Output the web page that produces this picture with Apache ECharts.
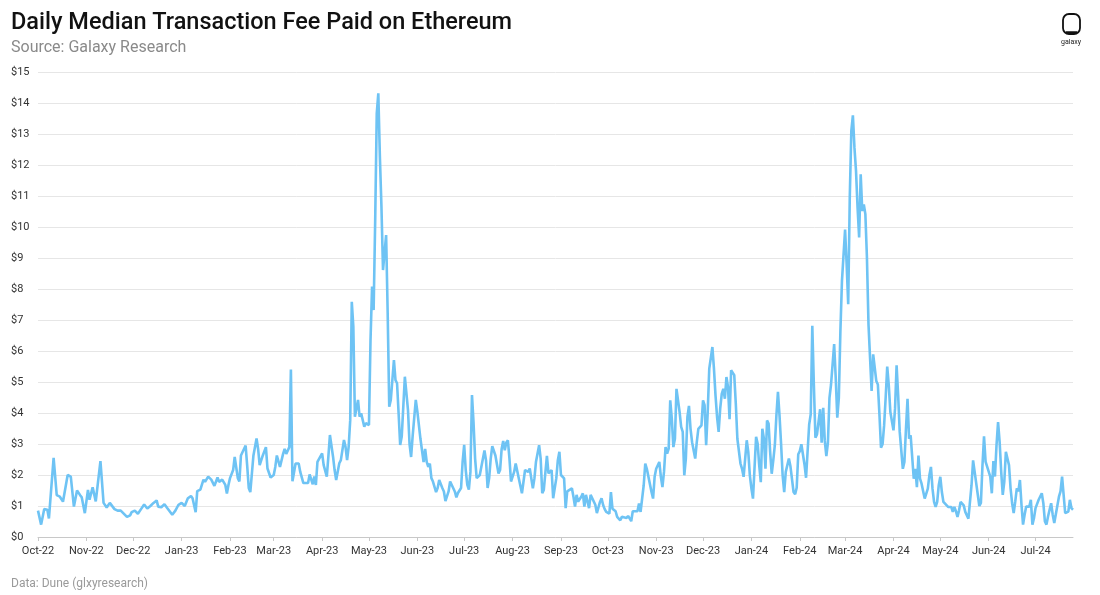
<!DOCTYPE html>
<html>
<head>
<meta charset="utf-8">
<script src="https://cdn.jsdelivr.net/npm/echarts@6/dist/echarts.min.js"></script>
<style>
html,body{margin:0;padding:0;background:#fff;}
#chart{width:1100px;height:595px;}
</style>
</head>
<body>
<div id="chart"></div>
<script>
// ---- data ----
const startDate = '2022-10-01';
const endDate = '2024-07-25';
// days since startDate at which the line's vertices were read
const dayOffset = [0,2,4,6,7,8,10,12,14,16,19,21,23,25,27,28,30,32,33,35,37,40,42,44,46,49,51,53,57,59,
60,62,64,66,68,70,72,74,76,77,79,81,83,86,88,90,92,94,96,98,99,101,102,104,106,107,109,111,113,115,116,118,
120,121,122,123,125,126,128,129,130,133,134,135,136,138,140,141,142,143,144,146,147,149,151,152,153,155,157,158,159,
161,162,163,165,167,168,170,171,173,174,176,177,178,179,180,182,183,185,186,187,189,190,191,193,194,196,197,198,199,
200,201,202,203,204,205,206,207,209,210,212,213,214,215,216,217,218,219,220,221,223,224,225,226,228,229,230,231,232,233,235,237,
238,239,240,242,243,244,245,247,248,249,250,251,252,253,255,256,257,259,260,261,263,264,265,267,268,269,271,272,273,274,275,276,277,278,279,
280,281,283,284,286,287,288,289,290,291,293,294,295,296,297,298,299,300,301,302,303,305,306,308,310,311,312,314,315,317,318,319,
321,322,323,324,326,327,328,329,330,332,333,334,335,337,338,339,340,342,343,344,345,346,348,349,350,351,353,354,355,357,358,359,
360,361,362,363,364,366,367,368,370,371,373,374,375,377,378,380,381,382,384,385,386,387,388,389,390,391,393,394,395,396,398,399,
400,401,402,403,404,405,406,407,408,409,411,412,413,414,415,416,417,418,419,421,422,423,424,425,426,427,428,429,430,432,433,434,435,436,437,438,439,
440,441,442,443,444,445,446,447,448,450,451,452,453,454,455,456,457,458,460,461,462,463,464,465,466,467,468,469,470,471,472,473,474,475,476,477,478,479,
480,481,482,484,485,486,487,488,489,491,492,493,494,495,496,497,498,499,501,502,503,504,505,506,507,508,509,510,511,512,513,514,515,517,518,519,
520,521,522,523,524,525,526,527,528,529,530,531,532,533,534,535,536,537,538,539,540,541,542,543,544,545,546,548,549,550,551,552,554,555,556,557,558,559,
560,561,562,563,564,565,566,568,569,570,571,572,573,574,575,576,577,578,579,580,581,583,584,585,586,587,588,589,590,591,593,594,595,596,597,598,599,
600,601,603,604,605,606,607,608,610,611,612,613,614,615,616,617,618,619,620,622,623,624,625,626,627,628,629,630,631,632,633,634,635,636,637,638,639,
640,641,643,644,645,646,647,648,649,650,651,652,654,655,656,657,658,660,661,662,663];
// daily median fee, USD
const fee = [0.85,0.4,0.9,0.88,0.6,0.65,2.55,1.35,1.3,1.14,2.0,1.95,0.98,1.5,1.35,1.28,0.77,1.52,1.2,1.6,1.15,2.45,1.1,0.95,1.1,0.9,0.85,0.85,0.65,0.7,
0.8,0.85,0.75,0.9,1.05,0.92,1.0,1.1,1.18,0.98,0.96,1.06,0.92,0.72,0.85,1.04,1.1,1.0,1.25,1.32,1.25,0.8,1.48,1.53,1.85,1.78,1.95,1.85,1.65,1.92,1.78,1.85,
1.68,1.4,1.68,1.9,2.16,2.58,1.9,1.79,2.63,2.95,2.3,1.58,1.45,2.63,3.18,2.84,2.32,2.26,2.63,2.9,2.21,1.92,2.0,2.26,2.63,2.26,2.68,2.84,2.68,
2.9,5.4,1.8,2.37,2.37,2.1,1.74,1.68,1.74,2.02,1.7,1.95,1.68,2.42,2.48,2.7,2.32,1.95,2.59,3.29,2.59,2.16,1.84,2.38,2.48,3.13,2.91,2.48,2.91,
3.77,7.59,6.78,3.88,3.83,4.42,3.88,3.99,3.56,3.67,3.61,6.35,8.08,7.32,10.23,13.67,14.31,12.27,10.66,8.61,9.74,7.22,4.2,4.42,5.71,5.06,4.96,3.99,2.97,3.24,5.17,4.1,
3.0,2.58,3.26,4.42,4.05,4.1,3.16,2.42,2.84,2.42,2.26,2.37,1.9,1.79,1.45,1.58,1.84,1.58,1.47,1.16,1.47,1.79,1.84,1.47,1.28,1.42,1.58,2.42,2.97,2.16,1.68,1.53,2.1,4.58,3.68,
2.53,1.9,2.0,2.05,2.79,2.47,1.58,1.9,2.53,2.93,2.63,2.68,2.05,2.16,2.84,3.1,2.8,3.05,3.12,2.53,1.79,2.1,2.37,1.89,1.41,1.36,2.16,2.1,2.21,1.57,1.89,2.43,
2.96,2.53,1.41,1.52,2.62,2.05,2.0,2.16,1.25,1.89,2.48,2.75,2.0,1.89,0.93,1.47,1.52,1.57,1.3,0.98,1.36,1.14,1.3,1.41,0.98,1.36,0.93,1.36,1.3,1.04,0.77,0.72,
1.13,1.25,1.03,0.9,0.81,0.75,1.45,0.91,0.83,0.65,0.54,0.65,0.67,0.61,0.68,0.51,0.83,0.86,0.83,1.08,0.81,0.86,1.67,2.37,2.2,2.15,1.45,1.24,1.94,2.2,2.42,1.94,
1.61,2.1,2.9,2.69,2.85,4.41,3.82,2.9,3.17,4.78,4.03,3.55,3.39,1.99,2.53,3.87,4.23,3.49,3.06,2.53,3.06,3.49,3.55,3.6,4.41,4.25,2.96,4.03,5.43,6.13,5.43,4.57,3.87,3.39,4.14,4.62,4.78,
4.46,5.16,4.84,3.8,5.38,5.38,5.22,4.3,3.17,2.37,2.2,1.94,2.53,3.12,2.74,1.99,1.56,1.24,3.23,3.01,2.31,1.77,3.49,3.17,2.2,3.76,3.66,2.74,2.04,2.47,2.96,3.92,4.68,3.92,3.01,1.99,1.45,2.1,
2.1,2.53,2.28,1.45,1.38,1.59,2.67,2.77,2.99,2.34,1.91,1.97,3.63,3.96,6.81,4.92,3.2,3.31,4.12,3.04,4.17,3.1,2.61,3.04,4.49,4.92,5.57,6.22,5.14,3.85,4.49,6.65,8.26,9.92,8.8,7.51,
10.95,13.1,13.6,12.56,11.81,10.62,9.66,11.7,10.52,10.73,10.41,9.01,6.86,5.78,4.71,5.89,5.95,5.03,4.92,3.96,2.88,2.99,3.6,4.5,5.5,4.89,4.03,3.44,4.14,5.54,4.57,3.39,2.2,2.42,3.49,4.46,3.17,3.28,
3.3,1.88,2.2,1.61,2.63,1.88,1.72,1.24,1.18,1.56,1.99,2.26,1.56,1.13,0.97,1.13,1.67,1.94,1.45,1.13,1.08,0.97,1.02,0.97,0.81,0.97,0.83,0.65,0.86,1.13,1.02,0.81,0.83,0.59,0.61,1.67,2.47,
2.1,2.15,1.0,1.1,2.3,3.25,2.43,2.27,1.95,1.41,2.45,1.95,2.96,3.71,3.07,2.11,1.36,1.79,2.75,2.32,1.57,1.09,0.77,1.14,1.57,1.47,1.84,1.04,0.4,0.72,0.98,0.93,0.98,1.2,0.4,0.61,0.93,
0.93,1.2,1.41,1.09,0.5,0.4,0.66,0.88,1.09,0.72,0.45,0.4,1.3,1.47,1.95,1.89,0.77,0.82,1.2,0.93,0.88];
const yTicks = [0,1,2,3,4,5,6,7,8,9,10,11,12,13,14,15];
const monthNames = ['Jan','Feb','Mar','Apr','May','Jun','Jul','Aug','Sep','Oct','Nov','Dec'];

// ---- build category axis (one entry per day) ----
const categories = [];
(function(){
  const s = new Date(startDate + 'T00:00:00Z').getTime();
  const e = new Date(endDate + 'T00:00:00Z').getTime();
  for (let t = s; t <= e; t += 86400000) {
    categories.push(new Date(t).toISOString().slice(0,10));
  }
})();
const isMonthStart = (idx, val) => String(val).slice(8,10) === '01';
const seriesData = dayOffset.map((d,i) => [d, fee[i]]);

const FONT = 'Roboto, "Noto Sans", sans-serif';
const chart = echarts.init(document.getElementById('chart'), null, {renderer:'canvas'});
chart.setOption({
  backgroundColor: '#ffffff',
  animation: false,
  textStyle: {fontFamily: FONT},
  title: [
    {text: 'Daily Median Transaction Fee Paid on Ethereum', left: 6, top: 6,
     textStyle: {fontFamily: FONT, fontSize: 23.5, fontWeight: 500, color: '#111'}},
    {text: 'Source: Galaxy Research', left: 6, top: 35,
     textStyle: {fontFamily: FONT, fontSize: 16, fontWeight: 400, color: '#8a8a8a'}},
    {text: 'Data: Dune (glxyresearch)', left: 6, top: 573,
     textStyle: {fontFamily: FONT, fontSize: 12, fontWeight: 400, color: '#9a9a9a'}}
  ],
  graphic: [
    {type: 'rect', shape: {x: 1063, y: 14, width: 17, height: 20, r: 6},
     style: {fill: 'none', stroke: '#111', lineWidth: 1.8}},
    {type: 'line', shape: {x1: 1066, y1: 32.5, x2: 1077, y2: 32.5},
     style: {stroke: '#111', lineWidth: 2.5}},
    {type: 'text', left: 1061, top: 39,
     style: {text: 'galaxy', fontSize: 7, fontFamily: FONT, fill: '#222'}}
  ],
  grid: {left: 38, right: 27, top: 72, bottom: 58, containLabel: false},
  xAxis: {
    type: 'category',
    data: categories,
    boundaryGap: false,
    axisLine: {show: true, lineStyle: {color: '#c8c8c8', width: 1}},
    axisTick: {show: true, interval: isMonthStart, length: 4, lineStyle: {color: '#c8c8c8'}},
    axisLabel: {
      interval: isMonthStart, margin: 9, fontSize: 11, color: '#333', fontFamily: FONT,
      formatter: v => monthNames[parseInt(v.slice(5,7),10)-1] + '-' + v.slice(2,4)
    },
    splitLine: {show: false}
  },
  yAxis: {
    type: 'value', min: yTicks[0], max: yTicks[yTicks.length-1], interval: 1,
    axisLine: {show: false}, axisTick: {show: false},
    axisLabel: {align: 'left', margin: 27, fontSize: 11, color: '#333', fontFamily: FONT,
      formatter: v => '$' + v},
    splitLine: {lineStyle: {color: '#e6e6e6', width: 1}}
  },
  series: [{
    type: 'line',
    data: seriesData,
    showSymbol: false,
    symbol: 'none',
    lineStyle: {color: '#6ec3f4', width: 2.6},
    itemStyle: {color: '#6ec3f4'}
  }]
});
</script>
</body>
</html>
